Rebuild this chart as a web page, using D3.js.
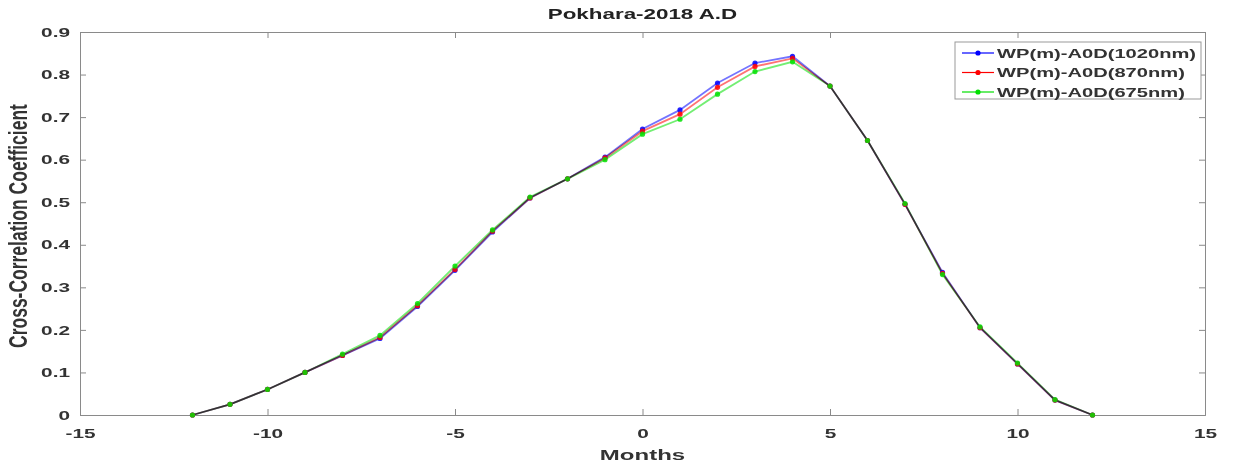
<!DOCTYPE html>
<html>
<head>
<meta charset="utf-8">
<script src="https://cdn.jsdelivr.net/npm/d3@7/dist/d3.min.js"></script>
<style>
  html, body { margin: 0; padding: 0; background: #fff; }
  svg { display: block; font-family: "Liberation Sans", Arial, sans-serif; }
  .tick text { font-weight: bold; fill: #333; font-size: 13px; }
  .axis path, .axis line { stroke: #8a8a8a; }
</style>
</head>
<body>
<svg id="chart" width="1235" height="466"></svg>
<script>
// Lag in months
const months = [-12, -11, -10, -9, -8, -7, -6, -5, -4, -3, -2, -1, 0, 1, 2, 3, 4, 5, 6, 7, 8, 9, 10, 11, 12];

// Cross-correlation of monthly water-vapour precipitation with AOD at three wavelengths
const wp1020 = [0, 0.025, 0.06, 0.10, 0.14, 0.18, 0.255, 0.34, 0.43, 0.51, 0.555, 0.606, 0.672, 0.717, 0.780, 0.827, 0.843, 0.773, 0.645, 0.495, 0.335, 0.205, 0.12, 0.035, 0];
const wp870  = [0, 0.025, 0.06, 0.10, 0.14, 0.182, 0.257, 0.342, 0.432, 0.51, 0.555, 0.604, 0.667, 0.707, 0.770, 0.819, 0.838, 0.773, 0.645, 0.495, 0.333, 0.205, 0.12, 0.035, 0];
const wp675  = [0, 0.025, 0.06, 0.10, 0.143, 0.187, 0.262, 0.35, 0.435, 0.512, 0.555, 0.600, 0.660, 0.695, 0.754, 0.807, 0.830, 0.773, 0.645, 0.497, 0.33, 0.207, 0.122, 0.036, 0];

const seriesNames = ["WP(m)-A0D(1020nm)", "WP(m)-A0D(870nm)", "WP(m)-A0D(675nm)"];
const seriesColors = ["#0000ff", "#ff0000", "#00e000"];
const seriesValues = [wp1020, wp870, wp675];

const xTicks = [-15, -10, -5, 0, 5, 10, 15];
const yTicks = [0, 0.1, 0.2, 0.3, 0.4, 0.5, 0.6, 0.7, 0.8, 0.9];

const svg = d3.select("#chart");
const pLeft = 80, pRight = 1205, pTop = 32, pBottom = 415;
const stretch = 1.6; // wide lettering used for all labels

const x = d3.scaleLinear().domain([-15, 15]).range([pLeft, pRight]);
const y = d3.scaleLinear().domain([0, 0.9]).range([pBottom, pTop]);

// Axes with inward ticks on all four sides
const tickLen = 6;
svg.append("g").attr("class", "axis").attr("transform", `translate(0,${pBottom})`)
  .call(d3.axisBottom(x).tickValues(xTicks).tickSize(-tickLen).tickFormat(d => String(d)))
  .call(g => g.selectAll(".tick text")
    .attr("y", 0).attr("dy", "0.35em")
    .attr("transform", `translate(0,18) scale(${stretch},1)`));
svg.append("g").attr("class", "axis").attr("transform", `translate(0,${pTop})`)
  .call(d3.axisTop(x).tickValues(xTicks).tickSize(-tickLen).tickFormat(""));
svg.append("g").attr("class", "axis").attr("transform", `translate(${pLeft},0)`)
  .call(d3.axisLeft(y).tickValues(yTicks).tickSize(-tickLen).tickFormat(d => d === 0 ? "0" : d3.format(".1f")(d)))
  .call(g => g.selectAll(".tick text")
    .attr("x", 0)
    .attr("transform", `translate(-10,0) scale(${stretch},1)`));
svg.append("g").attr("class", "axis").attr("transform", `translate(${pRight},0)`)
  .call(d3.axisRight(y).tickValues(yTicks).tickSize(-tickLen).tickFormat(""));
svg.selectAll(".axis .domain").attr("stroke", "#8a8a8a");

// Series lines and markers; overlapping coloured lines blend to grey
const line = d3.line().x((d, i) => x(months[i])).y(d => y(d));
const plot = svg.append("g");
seriesValues.forEach((vals, k) => {
  plot.append("path")
    .attr("d", line(vals))
    .attr("fill", "none")
    .attr("stroke", seriesColors[k])
    .attr("stroke-width", 1.8)
    .attr("stroke-opacity", 0.55)
    .style("mix-blend-mode", "multiply");
});
seriesValues.forEach((vals, k) => {
  plot.selectAll(null).data(vals).enter().append("circle")
    .attr("cx", (d, i) => x(months[i]))
    .attr("cy", d => y(d))
    .attr("r", 2.6)
    .attr("fill", seriesColors[k])
    .attr("fill-opacity", 0.85);
});

// Title and axis labels
svg.append("text")
  .attr("transform", `translate(${(pLeft + pRight) / 2},19) scale(${stretch},1)`)
  .attr("text-anchor", "middle").attr("font-weight", "bold").attr("font-size", 14).attr("fill", "#222")
  .text("Pokhara-2018 A.D");
svg.append("text")
  .attr("transform", `translate(${(pLeft + pRight) / 2},460) scale(${stretch},1)`)
  .attr("text-anchor", "middle").attr("font-weight", "bold").attr("font-size", 15).attr("fill", "#333")
  .text("Months");
svg.append("text")
  .attr("transform", `translate(27,226) rotate(-90) scale(1,1.45)`)
  .attr("text-anchor", "middle").attr("font-weight", "bold").attr("font-size", 17.5).attr("fill", "#333")
  .text("Cross-Correlation Coefficient");

// Legend
const lg = svg.append("g");
lg.append("rect").attr("x", 955).attr("y", 42).attr("width", 246).attr("height", 57)
  .attr("fill", "#fff").attr("stroke", "#999").attr("stroke-width", 1);
seriesNames.forEach((name, k) => {
  const ry = 53 + k * 19.5;
  lg.append("line").attr("x1", 962).attr("x2", 994).attr("y1", ry).attr("y2", ry)
    .attr("stroke", seriesColors[k]).attr("stroke-width", 1.2);
  lg.append("circle").attr("cx", 978).attr("cy", ry).attr("r", 2.6).attr("fill", seriesColors[k]);
  lg.append("text")
    .attr("transform", `translate(997,${ry + 4.5}) scale(1.55,1)`)
    .attr("font-weight", "bold").attr("font-size", 13).attr("fill", "#333").text(name);
});
</script>
</body>
</html>
